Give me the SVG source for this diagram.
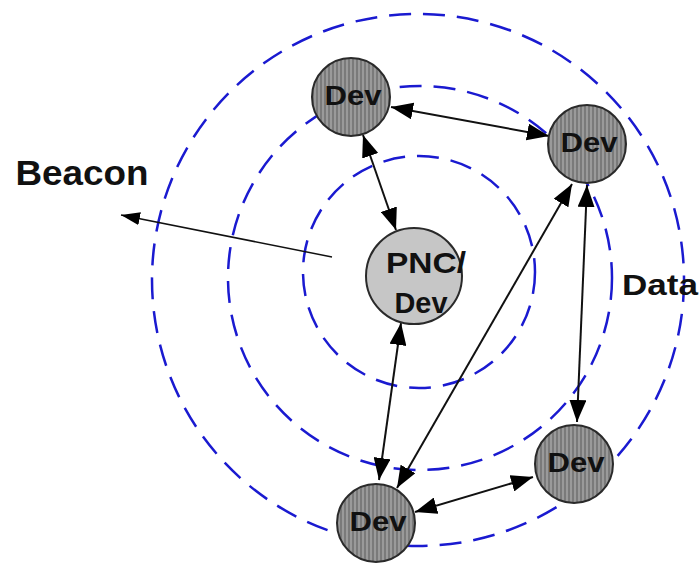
<svg xmlns="http://www.w3.org/2000/svg" width="700" height="563" viewBox="0 0 700 563">
<style>
.ring{fill:none;stroke:#1a1ad0;stroke-width:2.5;stroke-dasharray:22 12}
.dev{fill:url(#stripes);stroke:#2a2a2a;stroke-width:2}
.pnc{fill:#c6c6c6;stroke:#2a2a2a;stroke-width:2}
.lbl{font-family:"Liberation Sans",Arial,sans-serif;font-weight:bold;fill:#111;text-anchor:middle}
.link{stroke:#111;stroke-width:2;fill:none;marker-start:url(#ah);marker-end:url(#ah)}
</style>
<defs>
<pattern id="stripes" width="4" height="4" patternUnits="userSpaceOnUse">
<rect width="4" height="4" fill="#9a9a9a"/>
<rect width="2" height="4" fill="#7a7a7a"/>
</pattern>
<marker id="ah" markerUnits="userSpaceOnUse" markerWidth="23" markerHeight="17" refX="22" refY="8.5" orient="auto-start-reverse">
<path d="M0,0 L22,8.5 L0,17 Z" fill="#000"/>
</marker>
<marker id="bh" markerUnits="userSpaceOnUse" markerWidth="20" markerHeight="13" refX="19" refY="6.5" orient="auto">
<path d="M0,0 L19,6.5 L0,13 Z" fill="#000"/>
</marker>
</defs>
<rect width="700" height="563" fill="#fff"/>
<g id="rings">
<circle class="ring" cx="419" cy="272" r="116"/>
<circle class="ring" cx="420" cy="278" r="192"/>
<circle class="ring" cx="418" cy="280" r="266"/>
</g>
<g id="connectors">
<line class="link" x1="363" y1="135" x2="396" y2="230"/>
<line class="link" x1="391" y1="107" x2="549" y2="136"/>
<line class="link" x1="401" y1="323" x2="379" y2="480"/>
<line class="link" x1="572" y1="184" x2="397" y2="488"/>
<line class="link" x1="587" y1="185" x2="577" y2="422"/>
<line class="link" x1="415" y1="512" x2="533" y2="477"/>
<line x1="332" y1="257" x2="121" y2="215" stroke="#111" stroke-width="1.5" marker-end="url(#bh)"/>
</g>
<g id="node-top">
<circle class="dev" cx="351" cy="97" r="39"/>
<text class="lbl" x="353" y="105" font-size="28" textLength="57" lengthAdjust="spacingAndGlyphs">Dev</text>
</g>
<g id="node-right">
<circle class="dev" cx="587" cy="144" r="39"/>
<text class="lbl" x="589" y="152" font-size="28" textLength="57" lengthAdjust="spacingAndGlyphs">Dev</text>
</g>
<g id="node-pnc">
<circle class="pnc" cx="414" cy="276" r="48"/>
<text class="lbl" x="426" y="273" font-size="30" textLength="80" lengthAdjust="spacingAndGlyphs">PNC/</text>
<text class="lbl" x="421" y="313" font-size="30" textLength="53" lengthAdjust="spacingAndGlyphs">Dev</text>
</g>
<g id="node-bottom">
<circle class="dev" cx="376" cy="523" r="39"/>
<text class="lbl" x="378" y="531" font-size="28" textLength="57" lengthAdjust="spacingAndGlyphs">Dev</text>
</g>
<g id="node-bottom-right">
<circle class="dev" cx="574" cy="464" r="39"/>
<text class="lbl" x="576" y="472" font-size="28" textLength="57" lengthAdjust="spacingAndGlyphs">Dev</text>
</g>
<g id="label-beacon">
<text class="lbl" x="82" y="185" font-size="35" textLength="133" lengthAdjust="spacingAndGlyphs">Beacon</text>
</g>
<g id="label-data">
<text class="lbl" x="660" y="295" font-size="29" textLength="76" lengthAdjust="spacingAndGlyphs">Data</text>
</g>
</svg>
